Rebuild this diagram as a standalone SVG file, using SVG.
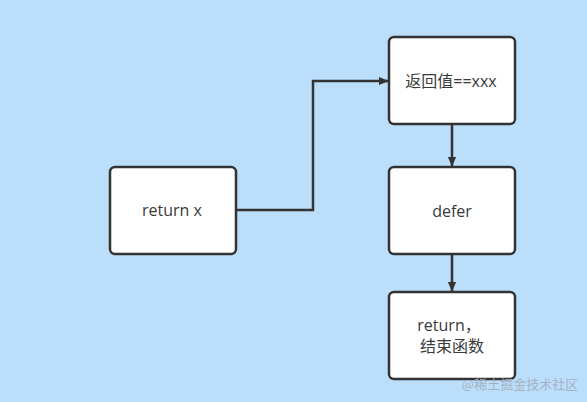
<svg xmlns="http://www.w3.org/2000/svg" width="587" height="402" viewBox="0 0 587 402">
<style>
.box{fill:#ffffff;stroke:#333333;stroke-width:2.5}
.t{font-family:"Open Sans","Noto Sans CJK SC",sans-serif;font-size:16px;fill:#3a3a3a;text-anchor:middle;dominant-baseline:central}
.edge{fill:none;stroke:#333333;stroke-width:2.5}
</style>
<defs>
<marker id="arr" markerWidth="10" markerHeight="12" refX="11" refY="5" orient="auto" markerUnits="userSpaceOnUse" viewBox="0 0 12 10">
<path d="M0,0 L12,5 L0,10 Z" fill="#333333"/>
</marker>
</defs>
<rect width="587" height="402" fill="#bbdefb"/>
<g id="connectors">
<path class="edge" d="M237,210 H313 V81 H388" marker-end="url(#arr)"/>
<path class="edge" d="M452,125 V166" marker-end="url(#arr)"/>
<path class="edge" d="M452,254 V291" marker-end="url(#arr)"/>
</g>
<g id="n_return_x">
<rect class="box" x="110" y="167" width="126" height="87" rx="5"/>
<text class="t" x="172" y="210">return x</text>
</g>
<g id="n_retval">
<rect class="box" x="389" y="37" width="126" height="87" rx="5"/>
<text class="t" x="451" y="81">返回值==xxx</text>
</g>
<g id="n_end">
<rect class="box" x="389" y="292" width="126" height="87" rx="5"/>
<text class="t" x="449" y="325">return，</text>
<text class="t" x="452" y="346">结束函数</text>
</g>
<g id="n_defer">
<rect class="box" x="389" y="167" width="126" height="87" rx="5"/>
<text class="t" x="452" y="211">defer</text>
</g>
<text x="520" y="383" font-family="'Noto Sans CJK SC',sans-serif" font-size="13" fill="#a3b4c4" text-anchor="middle" dominant-baseline="central">@稀土掘金技术社区</text>
</svg>
